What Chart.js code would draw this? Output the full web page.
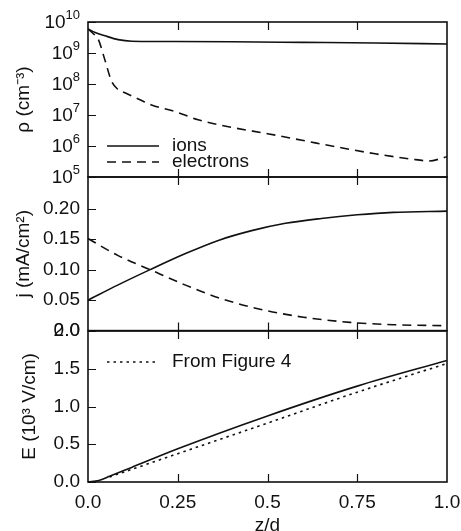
<!DOCTYPE html>
<html>
<head>
<meta charset="utf-8">
<script src="https://cdn.jsdelivr.net/npm/chart.js@4.4.1/dist/chart.umd.min.js"></script>
<style>
  html, body { margin: 0; padding: 0; background: #fff; overflow: hidden; }
  #wrap { position: relative; width: 461px; height: 531px; overflow: hidden; }
  canvas { position: absolute; left: 0; }
</style>
</head>
<body>
<div id="wrap">
  <canvas id="rhoChart" width="461" height="200" style="top:0px"></canvas>
  <canvas id="jChart" width="461" height="200" style="top:150px"></canvas>
  <canvas id="eChart" width="461" height="237" style="top:300px"></canvas>
</div>
<script>
// z/d positions and values
const ionRhoZ = [0, 0.02, 0.047, 0.084, 0.122, 0.2, 0.4, 0.6, 0.8, 1.0];
const ionRho = [6e9, 4.6e9, 3.6e9, 2.7e9, 2.4e9, 2.35e9, 2.3e9, 2.2e9, 2.1e9, 1.95e9];
const eleRhoZ = [0, 0.012, 0.029, 0.047, 0.066, 0.084, 0.103, 0.14, 0.177, 0.242, 0.307, 0.4, 0.5, 0.6, 0.7, 0.8, 0.9, 0.95, 1.0];
const eleRho = [6e9, 4.5e9, 2.7e9, 6e8, 1.2e8, 6.6e7, 5.2e7, 3.3e7, 2.1e7, 1.3e7, 7e6, 4e6, 2.5e6, 1.5e6, 9e5, 5.6e5, 3.8e5, 3.3e5, 4.5e5];

const ionJZ = [0, 0.084, 0.173, 0.27, 0.363, 0.456, 0.55, 0.65, 0.75, 0.85, 1.0];
const ionJ = [0.05, 0.075, 0.10, 0.126, 0.148, 0.164, 0.176, 0.184, 0.190, 0.194, 0.196];
const eleJZ = [0, 0.084, 0.173, 0.27, 0.363, 0.479, 0.6, 0.73, 0.85, 1.0];
const eleJ = [0.151, 0.123, 0.10, 0.075, 0.054, 0.035, 0.022, 0.0135, 0.0097, 0.008];

const fieldZ = [0, 0.03, 0.06, 0.12, 0.25, 0.5, 0.75, 1.0];
const field = [0, 0.02, 0.075, 0.19, 0.44, 0.875, 1.27, 1.61];
const fig4Z = [0.06, 0.25, 0.5, 0.75, 1.0];
const fig4Field = [0.067, 0.375, 0.78, 1.19, 1.57];

const zTicks = [0, 0.25, 0.5, 0.75, 1.0];
const zTickLabels = ['0.0', '0.25', '0.5', '0.75', '1.0'];
const rhoTicks = [1e5, 1e6, 1e7, 1e8, 1e9, 1e10];
const jTicks = [0, 0.05, 0.10, 0.15, 0.20];
const jTickLabels = ['0.0', '0.05', '0.10', '0.15', '0.20'];
const eTicks = [0, 0.5, 1.0, 1.5, 2.0];
const eTickLabels = ['0.0', '0.5', '1.0', '1.5', '2.0'];

const ink = '#111';
const family = '"Liberation Sans", Arial, Helvetica, sans-serif';
Chart.defaults.font.family = family;
Chart.defaults.font.size = 19;
Chart.defaults.color = ink;

function pts(xs, ys) {
  return xs.map((x, i) => ({ x: x, y: ys[i] }));
}

function line(label, xs, ys, dash) {
  return {
    label: label,
    data: pts(xs, ys),
    borderColor: ink,
    borderWidth: 1.6,
    borderDash: dash,
    pointRadius: 0,
    fill: false,
    cubicInterpolationMode: 'monotone'
  };
}

// box round the plot, inward ticks, in-plot legend and log labels
const frame = {
  id: 'frame',
  afterDatasetsDraw(chart, args, opts) {
    const ctx = chart.ctx;
    const a = chart.chartArea;
    const xs = chart.scales.x, ys = chart.scales.y;
    ctx.save();
    ctx.strokeStyle = ink;
    ctx.setLineDash([]);
    ctx.lineWidth = 1.6;
    ctx.strokeRect(a.left, a.top, a.width, a.height);
    ctx.lineWidth = 1.2;
    ctx.beginPath();
    ys.ticks.forEach(t => {
      const py = Math.round(ys.getPixelForValue(t.value)) + 0.5;
      ctx.moveTo(a.left, py);
      ctx.lineTo(a.left + 8, py);
    });
    zTicks.slice(1, -1).forEach(v => {
      const px = Math.round(xs.getPixelForValue(v)) + 0.5;
      ctx.moveTo(px, a.top);
      ctx.lineTo(px, a.top + 8);
      ctx.moveTo(px, a.bottom);
      ctx.lineTo(px, a.bottom - 8);
    });
    ctx.stroke();

    ctx.fillStyle = ink;
    ctx.textBaseline = 'middle';
    (opts.items || []).forEach(it => {
      const ds = chart.data.datasets[it.index];
      ctx.setLineDash(ds.borderDash || []);
      ctx.lineWidth = ds.borderWidth;
      ctx.beginPath();
      ctx.moveTo(it.x, it.y);
      ctx.lineTo(it.x + 52, it.y);
      ctx.stroke();
      ctx.setLineDash([]);
      ctx.font = '19px ' + family;
      ctx.textAlign = 'left';
      ctx.fillText(ds.label, it.x + 65, it.y);
    });

    if (opts.powers) {
      ys.ticks.forEach(t => {
        const py = ys.getPixelForValue(t.value);
        const exp = String(Math.round(Math.log10(t.value)));
        ctx.textAlign = 'right';
        ctx.font = '13px ' + family;
        const ew = ctx.measureText(exp).width;
        ctx.fillText(exp, 80, py - 7);
        ctx.font = '19px ' + family;
        ctx.fillText('10', 80 - ew, py + 1);
      });
    }
    ctx.restore();
  }
};

function fixWidth(scale) { scale.width = 88; }

function yTitle(text, pad) {
  return { display: true, text: text, font: { size: 19 }, padding: { top: pad, bottom: 0 } };
}

const hiddenX = {
  type: 'linear', min: 0, max: 1, display: false
};

new Chart(document.getElementById('rhoChart'), {
  type: 'line',
  data: {
    datasets: [
      line('ions', ionRhoZ, ionRho, []),
      line('electrons', eleRhoZ, eleRho, [9, 6])
    ]
  },
  options: {
    responsive: false,
    animation: false,
    layout: { autoPadding: false, padding: { top: 22, bottom: 23, left: 0, right: 14 } },
    plugins: {
      legend: { display: false },
      tooltip: { enabled: false },
      frame: { powers: true, items: [{ index: 0, x: 107, y: 146 }, { index: 1, x: 107, y: 162 }] }
    },
    scales: {
      x: hiddenX,
      y: {
        type: 'logarithmic', min: 1e5, max: 1e10,
        afterFit: fixWidth,
        afterBuildTicks: s => { s.ticks = rhoTicks.map(v => ({ value: v })); },
        grid: { display: false, drawTicks: false },
        border: { display: false },
        ticks: { display: false },
        title: yTitle('ρ (cm⁻³)', 12)
      }
    }
  },
  plugins: [frame]
});

new Chart(document.getElementById('jChart'), {
  type: 'line',
  data: {
    datasets: [
      line('ions', ionJZ, ionJ, []),
      line('electrons', eleJZ, eleJ, [9, 6])
    ]
  },
  options: {
    responsive: false,
    animation: false,
    layout: { autoPadding: false, padding: { top: 27, bottom: 19, left: 0, right: 14 } },
    plugins: {
      legend: { display: false },
      tooltip: { enabled: false },
      frame: {}
    },
    scales: {
      x: hiddenX,
      y: {
        type: 'linear', min: 0, max: 0.252,
        afterFit: fixWidth,
        afterBuildTicks: s => { s.ticks = jTicks.map(v => ({ value: v })); },
        grid: { display: false, drawTicks: false },
        border: { display: false },
        ticks: { padding: 8, callback: (v, i) => jTickLabels[i] },
        title: yTitle('j (mA/cm²)', 12)
      }
    }
  },
  plugins: [frame]
});

new Chart(document.getElementById('eChart'), {
  type: 'line',
  data: {
    datasets: [
      line('', fieldZ, field, []),
      line('From Figure 4', fig4Z, fig4Field, [2.5, 4])
    ]
  },
  options: {
    responsive: false,
    animation: false,
    layout: { autoPadding: false, padding: { top: 31, bottom: 0, left: 0, right: 14 } },
    plugins: {
      legend: { display: false },
      tooltip: { enabled: false },
      frame: { items: [{ index: 1, x: 107, y: 62 }] }
    },
    scales: {
      x: {
        type: 'linear', min: 0, max: 1,
        afterFit: s => { s.height = 55; s.paddingLeft = 0; s.paddingRight = 0; },
        afterBuildTicks: s => { s.ticks = zTicks.map(v => ({ value: v })); },
        grid: { display: false, drawTicks: false },
        border: { display: false },
        ticks: { padding: 9, maxRotation: 0, callback: (v, i) => zTickLabels[i] },
        title: { display: true, text: 'z/d', font: { size: 19 }, padding: { top: 0, bottom: 0 } }
      },
      y: {
        type: 'linear', min: 0, max: 2.0,
        afterFit: fixWidth,
        afterBuildTicks: s => { s.ticks = eTicks.map(v => ({ value: v })); },
        grid: { display: false, drawTicks: false },
        border: { display: false },
        ticks: { padding: 8, callback: (v, i) => eTickLabels[i] },
        title: yTitle('E (10³ V/cm)', 18)
      }
    }
  },
  plugins: [frame]
});
</script>
</body>
</html>
